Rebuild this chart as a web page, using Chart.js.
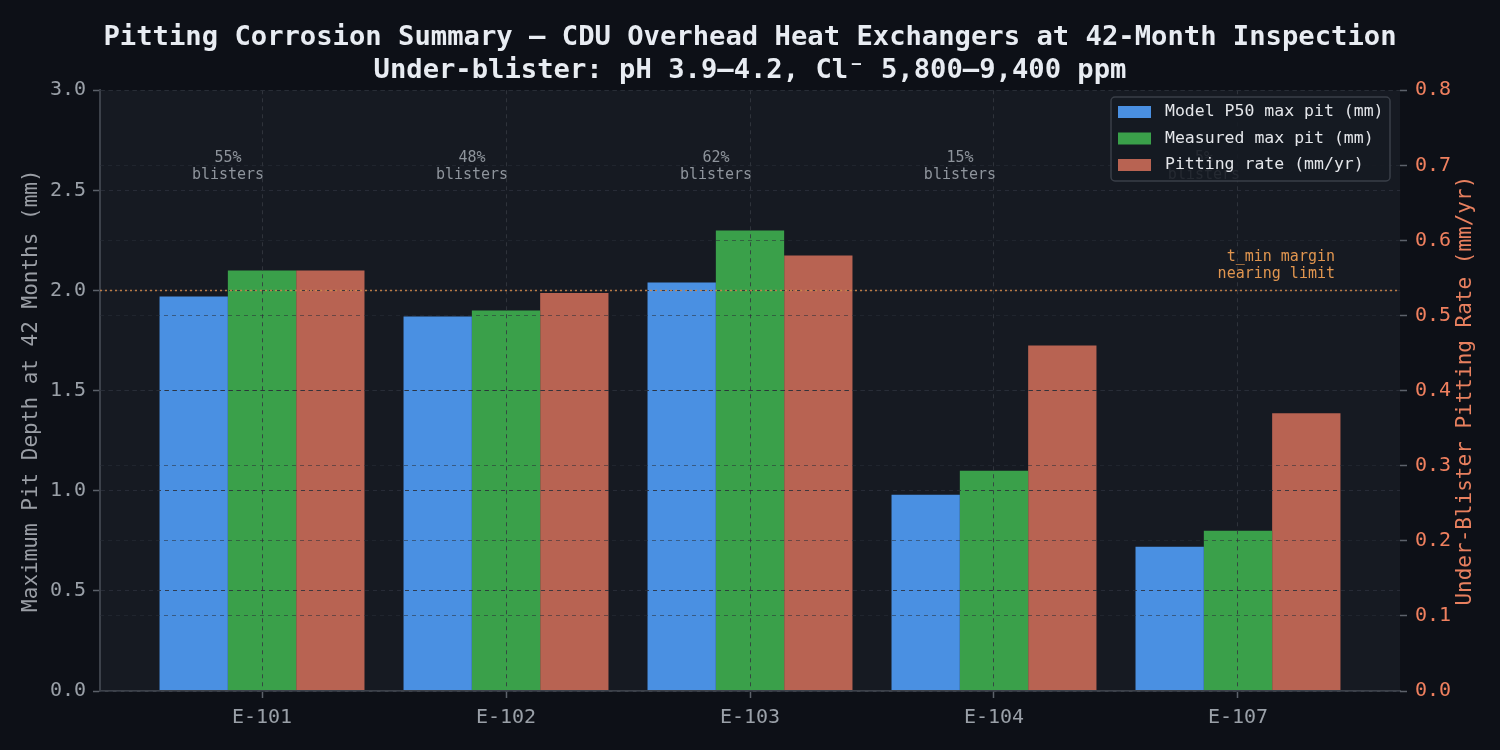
<!DOCTYPE html>
<html>
<head>
<meta charset="utf-8">
<script src="https://cdn.jsdelivr.net/npm/chart.js@4"></script>
<style>
  html, body { margin: 0; padding: 0; background: #0d1017; }
  #wrap { width: 1500px; height: 750px; }
</style>
</head>
<body>
<div id="wrap"><canvas id="c" width="1500" height="750"></canvas></div>
<script>
// exchanger tags
const categories = ['E-101', 'E-102', 'E-103', 'E-104', 'E-107'];
// pit depth at 42 months (mm)
const modelP50 = [1.97, 1.87, 2.04, 0.98, 0.72];
const measuredMax = [2.10, 1.90, 2.30, 1.10, 0.80];
// under-blister pitting rate (mm/yr)
const pitRate = [0.56, 0.53, 0.58, 0.46, 0.37];
// blister coverage (%)
const blisterPct = [55, 48, 62, 15, 5];
const tminLimit = 2.0;

const MONO = '"DejaVu Sans Mono", "Liberation Mono", monospace';
const gridCol = 'rgba(42,47,57,0.85)';
const tickCol = '#5c616a';

const pts = arr => arr.map((v, i) => ({ x: i, y: v }));

const annotations = {
  id: 'annotations',
  beforeDraw(chart) {
    const {ctx, chartArea: a} = chart;
    ctx.save();
    ctx.fillStyle = '#161a22';
    ctx.fillRect(a.left, a.top, a.right - a.left, a.bottom - a.top);
    ctx.restore();
  },
  afterDraw(chart) {
    const {ctx, chartArea: a, scales} = chart;
    const y = scales.y, x = scales.x;
    ctx.save();
    // t_min line
    const ty = y.getPixelForValue(tminLimit);
    ctx.strokeStyle = 'rgba(214,140,76,0.85)';
    ctx.lineWidth = 1.5;
    ctx.setLineDash([2, 3]);
    ctx.beginPath();
    ctx.moveTo(a.left, ty);
    ctx.lineTo(a.right, ty);
    ctx.stroke();
    ctx.setLineDash([]);
    ctx.font = '15px ' + MONO;
    ctx.fillStyle = '#e0954f';
    ctx.textAlign = 'right';
    ctx.textBaseline = 'middle';
    ctx.fillText('t_min margin', a.right - 65, ty - 33);
    ctx.fillText('nearing limit', a.right - 65, ty - 16);
    // blister coverage labels
    ctx.fillStyle = '#8e949c';
    ctx.textAlign = 'center';
    const ly = y.getPixelForValue(2.66);
    blisterPct.forEach((p, i) => {
      const cx = x.getPixelForValue(i) - 34;
      ctx.fillText(p + '%', cx, ly);
      ctx.fillText('blisters', cx, ly + 17);
    });
    ctx.restore();

    // right axis title, reading bottom-to-top
    ctx.save();
    ctx.font = '21px ' + MONO;
    ctx.fillStyle = '#e8805f';
    ctx.textAlign = 'center';
    ctx.textBaseline = 'middle';
    ctx.translate(1466, (a.top + a.bottom) / 2);
    ctx.rotate(-Math.PI / 2);
    ctx.fillText('Under-Blister Pitting Rate (mm/yr)', 0, 0);
    ctx.restore();

    // legend box inside top right
    ctx.save();
    const bx = 1111, by = 97, bw = 279, bh = 84;
    ctx.fillStyle = 'rgba(22,26,34,0.88)';
    ctx.strokeStyle = '#3a3f48';
    ctx.lineWidth = 1.5;
    ctx.beginPath();
    ctx.roundRect(bx, by, bw, bh, 4);
    ctx.fill();
    ctx.stroke();
    ctx.font = '16.5px ' + MONO;
    ctx.textBaseline = 'middle';
    ctx.textAlign = 'left';
    chart.data.datasets.forEach((ds, i) => {
      const ry = by + 15 + i * 26.5;
      ctx.fillStyle = ds.backgroundColor;
      ctx.fillRect(bx + 7, ry - 6, 33, 12);
      ctx.fillStyle = '#e4e6ea';
      ctx.fillText(ds.label, bx + 54, ry);
    });
    ctx.restore();
  }
};

new Chart(document.getElementById('c'), {
  type: 'bar',
  data: {
    datasets: [
      { label: 'Model P50 max pit (mm)', data: pts(modelP50), backgroundColor: '#4a90e2', yAxisID: 'y' },
      { label: 'Measured max pit (mm)', data: pts(measuredMax), backgroundColor: '#3aa04a', yAxisID: 'y' },
      { label: 'Pitting rate (mm/yr)', data: pts(pitRate), backgroundColor: '#b86352', yAxisID: 'y1' }
    ]
  },
  options: {
    responsive: false,
    animation: false,
    devicePixelRatio: 1,
    layout: { padding: 0 },
    datasets: { bar: { categoryPercentage: 0.84, barPercentage: 1.0 } },
    plugins: {
      legend: { display: false },
      tooltip: { enabled: false },
      title: {
        display: true,
        text: ['Pitting Corrosion Summary \u2014 CDU Overhead Heat Exchangers at 42-Month Inspection',
               'Under-blister: pH 3.9\u20134.2, Cl\u207b 5,800\u20139,400 ppm'],
        color: '#e8ecf2',
        font: { family: MONO, size: 27.2, weight: 'bold', lineHeight: 1.2 },
        padding: { top: 22, bottom: 3 }
      }
    },
    scales: {
      x: {
        type: 'linear',
        z: 1,
        min: -0.664, max: categories.length - 1 + 0.664,
        offset: false,
        afterBuildTicks: s => { s.ticks = categories.map((_, i) => ({ value: i })); },
        afterFit: s => { s.height = 59; },
        grid: { z: 1, offset: false, color: 'rgba(52,56,64,0.85)', tickColor: tickCol, tickLength: 7, tickWidth: 1.5 },
        border: { z: 1, display: true, color: '#3c414a', width: 2, dash: [4, 4] },
        ticks: { color: '#9aa0a8', font: { family: MONO, size: 20 }, padding: 8,
                 callback: v => categories[v] }
      },
      y: {
        z: 1,
        position: 'left',
        min: 0, max: 3,
        afterFit: s => { s.width = 100; },
        grid: { z: 1, color: gridCol, tickColor: tickCol, tickLength: 7, tickWidth: 1.5 },
        border: { z: 1, display: true, color: '#3c414a', width: 2, dash: [4, 4] },
        ticks: { stepSize: 0.5, color: '#9aa0a8', font: { family: MONO, size: 20 }, padding: 7,
                 callback: v => v.toFixed(1) },
        title: { display: true, text: 'Maximum Pit Depth at 42 Months (mm)', color: '#9a9ea5',
                 font: { family: MONO, size: 21 }, padding: { top: 19, bottom: 0 } }
      },
      y1: {
        z: 1,
        position: 'right',
        min: 0, max: 0.8,
        afterFit: s => { s.width = 100; },
        grid: { z: 1, color: 'rgba(42,47,57,0.55)', tickColor: tickCol, tickLength: 7, tickWidth: 1.5 },
        border: { display: false, dash: [4, 4] },
        ticks: { stepSize: 0.1, color: '#f0805f', font: { family: MONO, size: 20 }, padding: 8,
                 callback: v => v.toFixed(1) }
      }
    }
  },
  plugins: [annotations]
});
</script>
</body>
</html>
